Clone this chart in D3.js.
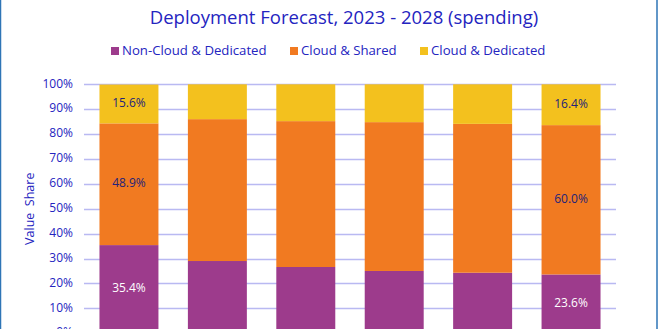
<!DOCTYPE html>
<html>
<head>
<meta charset="utf-8">
<script src="https://cdn.jsdelivr.net/npm/d3@7"></script>
<style>
  html, body { margin: 0; padding: 0; background: #fff; overflow: hidden; }
  svg { display: block; font-family: "Open Sans", sans-serif; }
</style>
</head>
<body>
<div id="target"></div>
<script>
// data
const years = ['2023', '2024', '2025', '2026', '2027', '2028']
const seriesNames = ['Non-Cloud & Dedicated', 'Cloud & Shared', 'Cloud & Dedicated']
const nonCloudDedicated = [35.4, 29.0, 26.6, 25.0, 24.3, 23.6]
const cloudShared = [48.9, 57.0, 58.6, 59.8, 59.8, 60.0]
const cloudDedicated = [15.6, 14.0, 14.8, 15.2, 15.9, 16.4]
const yTicks = [0, 10, 20, 30, 40, 50, 60, 70, 80, 90, 100]
const labelledYears = ['2023', '2028']

const colors = {
    text: '#2424c0',
    grid: '#b9b9f2',
    border: '#2e75b6',
    series: ['#9d3b8c', '#f17a21', '#f3c11e'],
    labels: ['#ffffff', '#23237a', '#23237a']
}

const width = 658
const height = 329
const margin = { left: 84, right: 42, top: 84.3 }
const plotBottom = 333.2

const svg = d3.select('#target').append('svg')
    .attr('width', width)
    .attr('height', height)

// chart border
svg.append('rect')
    .attr('x', 0.5).attr('y', -20)
    .attr('width', 656.5).attr('height', 400)
    .attr('fill', 'none')
    .attr('stroke', colors.border)
    .attr('stroke-width', 1.5)

const table = years.map((year, i) => ({
    year,
    [seriesNames[0]]: nonCloudDedicated[i],
    [seriesNames[1]]: cloudShared[i],
    [seriesNames[2]]: cloudDedicated[i]
}))

const stacked = d3.stack().keys(seriesNames)(table)

const x = d3.scaleBand()
    .domain(years)
    .range([margin.left, width - margin.right])
    .paddingInner(0.333)
    .paddingOuter(0.175)

const y = d3.scaleLinear()
    .domain([0, 100])
    .range([plotBottom, margin.top])

// gridlines
svg.append('g')
    .selectAll('line')
    .data(yTicks)
    .enter()
    .append('line')
    .attr('x1', margin.left)
    .attr('x2', width - margin.right)
    .attr('y1', d => Math.round(y(d)) + 0.5)
    .attr('y2', d => Math.round(y(d)) + 0.5)
    .attr('stroke', colors.grid)
    .attr('stroke-width', 1.3)

// y tick labels
svg.append('g')
    .selectAll('text')
    .data(yTicks)
    .enter()
    .append('text')
    .attr('x', 73)
    .attr('y', d => y(d))
    .attr('text-anchor', 'end')
    .attr('dominant-baseline', 'middle')
    .attr('font-size', 12)
    .attr('fill', colors.text)
    .text(d => d + '%')

// y axis title
svg.append('text')
    .attr('transform', `translate(34,${(margin.top + plotBottom) / 2}) rotate(-90)`)
    .attr('text-anchor', 'middle')
    .attr('font-size', 12.5)
    .attr('fill', colors.text)
    .attr('xml:space', 'preserve')
    .text('Value  Share')

// bars
const layers = svg.append('g')
    .selectAll('g')
    .data(stacked)
    .enter()
    .append('g')
    .attr('fill', (d, i) => colors.series[i])

layers.selectAll('rect')
    .data(d => d)
    .enter()
    .append('rect')
    .attr('x', d => x(d.data.year))
    .attr('width', x.bandwidth())
    .attr('y', d => y(d[1]))
    .attr('height', d => y(d[0]) - y(d[1]))

// data labels on first and last bar
stacked.forEach((layer, i) => {
    svg.append('g')
        .selectAll('text')
        .data(layer.filter(d => labelledYears.includes(d.data.year)))
        .enter()
        .append('text')
        .attr('x', d => x(d.data.year) + x.bandwidth() / 2)
        .attr('y', d => (y(d[0]) + y(d[1])) / 2)
        .attr('text-anchor', 'middle')
        .attr('dominant-baseline', 'middle')
        .attr('font-size', 12)
        .attr('fill', colors.labels[i])
        .text(d => d3.format('.1f')(d[1] - d[0]) + '%')
})

// title (second line, first line is above the visible area)
svg.append('text')
    .attr('x', 344)
    .attr('y', 24)
    .attr('text-anchor', 'middle')
    .attr('font-size', 18.5)
    .attr('fill', colors.text)
    .text('Deployment Forecast, 2023 - 2028 (spending)')

// legend
const legendX = [111, 290, 420]
const legend = svg.append('g')
    .selectAll('g')
    .data(seriesNames)
    .enter()
    .append('g')
    .attr('transform', (d, i) => `translate(${legendX[i]},51)`)

legend.append('rect')
    .attr('x', 0).attr('y', -4)
    .attr('width', 8).attr('height', 8)
    .attr('fill', (d, i) => colors.series[i])

legend.append('text')
    .attr('x', 11)
    .attr('y', 0)
    .attr('dominant-baseline', 'middle')
    .attr('font-size', 13.2)
    .attr('fill', colors.text)
    .text(d => d)
</script>
</body>
</html>
